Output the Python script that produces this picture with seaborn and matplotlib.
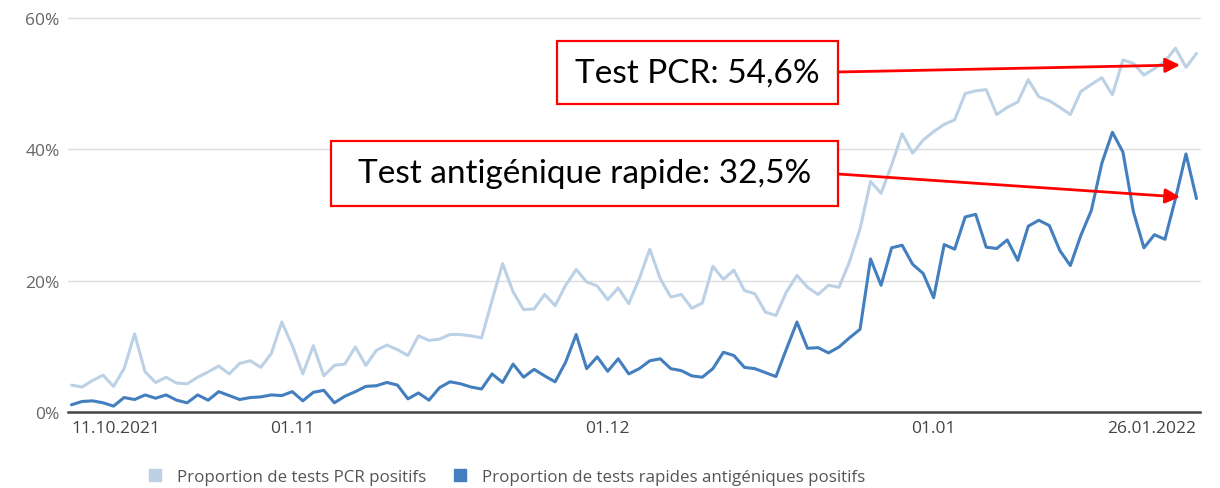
import numpy as np
import pandas as pd
import matplotlib
matplotlib.use("Agg")
import matplotlib.pyplot as plt
from matplotlib.patches import Rectangle
from matplotlib.lines import Line2D
import seaborn as sns

# daily share of positive tests, 11.10.2021 - 26.01.2022
start_date = "2021-10-11"
pcr_values = [
    4.1, 3.8, 4.8, 5.6, 3.9, 6.6, 11.9, 6.1, 4.5, 5.3,
    4.4, 4.3, 5.3, 6.1, 7.0, 5.8, 7.4, 7.8, 6.8, 8.9,
    13.7, 10.1, 5.8, 10.1, 5.5, 7.1, 7.3, 9.9, 7.1, 9.4,
    10.2, 9.5, 8.6, 11.6, 10.9, 11.1, 11.8, 11.8, 11.6, 11.3,
    17.0, 22.6, 18.3, 15.6, 15.7, 17.9, 16.2, 19.3, 21.7, 19.8,
    19.2, 17.1, 18.9, 16.5, 20.3, 24.8, 20.3, 17.5, 17.9, 15.8,
    16.6, 22.2, 20.2, 21.6, 18.5, 18.0, 15.2, 14.7, 18.3, 20.8,
    19.0, 17.9, 19.3, 19.0, 22.9, 27.9, 35.1, 33.3, 37.6, 42.4,
    39.4, 41.4, 42.7, 43.8, 44.5, 48.5, 48.9, 49.1, 45.3, 46.4,
    47.2, 50.6, 48.0, 47.4, 46.4, 45.3, 48.8, 49.9, 50.9, 48.3,
    53.6, 53.1, 51.3, 52.3, 53.4, 55.4, 52.5, 54.6,
]
antigen_values = [
    1.1, 1.6, 1.7, 1.4, 0.9, 2.2, 1.9, 2.6, 2.1, 2.6,
    1.8, 1.4, 2.6, 1.8, 3.1, 2.5, 1.9, 2.2, 2.3, 2.6,
    2.5, 3.1, 1.7, 3.0, 3.3, 1.4, 2.4, 3.1, 3.9, 4.0,
    4.5, 4.1, 2.0, 2.9, 1.8, 3.7, 4.6, 4.3, 3.8, 3.5,
    5.8, 4.5, 7.3, 5.3, 6.5, 5.5, 4.6, 7.6, 11.8, 6.6,
    8.4, 6.2, 8.1, 5.8, 6.6, 7.8, 8.1, 6.6, 6.3, 5.5,
    5.3, 6.6, 9.1, 8.6, 6.8, 6.6, 6.0, 5.4, 9.6, 13.7,
    9.7, 9.8, 9.0, 9.9, 11.3, 12.6, 23.3, 19.3, 25.0, 25.4,
    22.5, 21.1, 17.4, 25.5, 24.8, 29.7, 30.1, 25.1, 24.9, 26.2,
    23.1, 28.3, 29.2, 28.4, 24.6, 22.3, 26.9, 30.7, 37.9, 42.6,
    39.6, 30.5, 25.0, 27.0, 26.3, 32.5, 39.3, 32.5,
]
series_names = ["Proportion de tests PCR positifs",
                "Proportion de tests rapides antigéniques positifs"]
series_colors = ["#bcd1e6", "#437fbf"]
tick_dates = ["2021-10-11", "2021-11-01", "2021-12-01", "2022-01-01", "2022-01-26"]
tick_labels = ["11.10.2021", "01.11", "01.12", "01.01", "26.01.2022"]
y_ticks = [0, 20, 40, 60]
callouts = ["Test PCR: 54,6%", "Test antigénique rapide: 32,5%"]

dates = pd.date_range(start_date, periods=len(pcr_values), freq="D")
df = pd.DataFrame({
    "date": np.concatenate([dates, dates]),
    "value": pcr_values + antigen_values,
    "series": [series_names[0]] * len(dates) + [series_names[1]] * len(dates),
})

sns.set_style("white")
plt.rcParams["font.family"] = ["Open Sans", "DejaVu Sans"]

fig = plt.figure(figsize=(12.2, 4.89), dpi=100)
ax = fig.add_axes([68 / 1220, 76 / 489, (1200 - 68) / 1220, (470 - 76) / 489])

sns.lineplot(data=df, x="date", y="value", hue="series", palette=series_colors,
             hue_order=series_names, linewidth=2.2, legend=False, ax=ax)

ax.set_xlim(dates[0] - pd.Timedelta(hours=8), dates[-1] + pd.Timedelta(hours=8))
ax.set_ylim(0, 60)
ax.set_yticks(y_ticks)
ax.set_yticklabels([f"{v}%" for v in y_ticks], color="#666666", fontsize=12.5)
ax.set_xticks(pd.to_datetime(tick_dates))
ax.set_xticklabels(tick_labels, color="#444444", fontsize=12.5)
xt = ax.get_xticklabels()
xt[0].set_ha("left")
xt[-1].set_ha("right")
ax.set_xlabel("")
ax.set_ylabel("")
for v in y_ticks[1:]:
    ax.axhline(v, color="#dddddd", lw=1, zorder=0, clip_on=False)
for s in ["top", "right", "left"]:
    ax.spines[s].set_visible(False)
ax.spines["bottom"].set_color("#444444")
ax.spines["bottom"].set_linewidth(1.8)
ax.tick_params(axis="x", length=5, width=1, color="#444444", direction="out", pad=1)
ax.tick_params(axis="y", length=0, pad=6)

# legend below the axis
handles = [Line2D([], [], marker="s", ls="", markersize=9, color=c) for c in series_colors]
fig.legend(handles, series_names, loc="center", bbox_to_anchor=(502 / 1220, 1 - 478 / 489),
           ncol=2, frameon=False, fontsize=12.2, labelcolor="#555555",
           handletextpad=0.3, columnspacing=1.0)

# red callout boxes and arrows, placed in pixel space
def px(x, y):
    return x / 1220, 1 - y / 489

boxes = [(557, 42, 838, 105), (331, 142, 838, 207)]
arrow_ends = [((838, 73), (1180, 66)), ((838, 175), (1180, 198))]
for (x0, y0, x1, y1), label in zip(boxes, callouts):
    fx0, fy1 = px(x0, y1)
    fx1, fy0 = px(x1, y0)
    fig.patches.append(Rectangle((fx0, fy1), fx1 - fx0, fy0 - fy1, transform=fig.transFigure,
                                 fill=True, facecolor="white", edgecolor="#ff0000", lw=1.6, zorder=5))
    cx, cy = px((x0 + x1) / 2, (y0 + y1) / 2)
    fig.text(cx, cy, label, ha="center", va="center", fontsize=24, color="black",
             family=["Lato", "DejaVu Sans"], zorder=6)
for (sx, sy), (ex, ey) in arrow_ends:
    ax.annotate("", xy=px(ex, ey), xycoords="figure fraction",
                xytext=px(sx, sy), textcoords="figure fraction",
                arrowprops=dict(arrowstyle="-|>", color="#ff0000", lw=2,
                                mutation_scale=22, shrinkA=0, shrinkB=0))

fig.savefig("out.png", dpi=100, facecolor="white")
